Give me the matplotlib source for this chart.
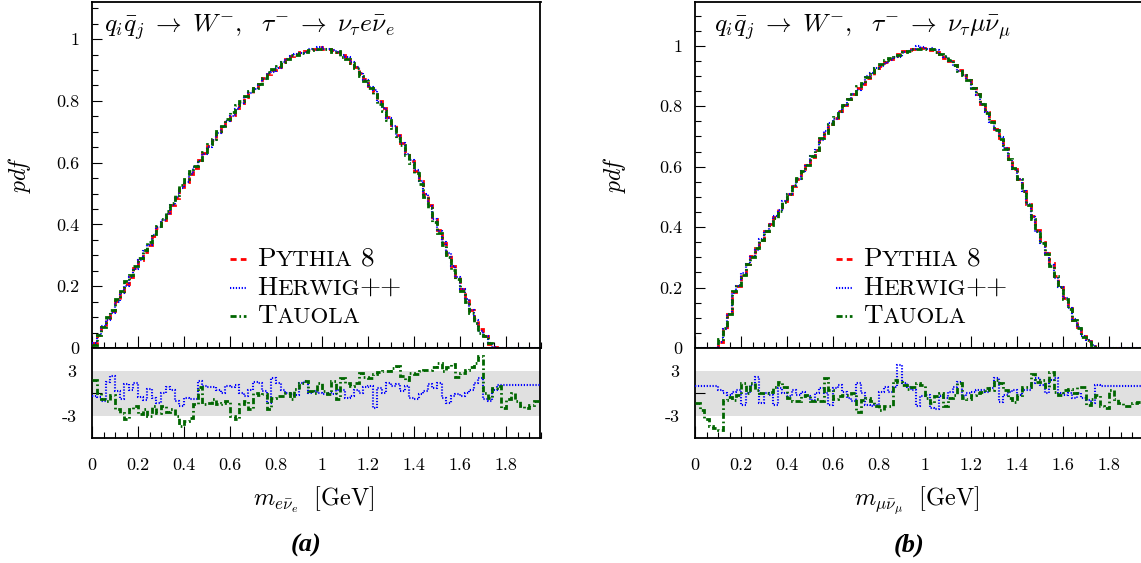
import numpy as np
import matplotlib
import matplotlib.pyplot as plt
from matplotlib.ticker import MultipleLocator, FuncFormatter, FixedLocator
from matplotlib.offsetbox import TextArea, HPacker, AnnotationBbox

matplotlib.use('Agg')

# histogram binning: 98 bins of 0.02 GeV
bin_edges = np.linspace(0.0, 1.96, 99)

# (a) tau -> nu e nubar, m(e nubar_e)
pythia_e = [0.015, 0.041, 0.067, 0.096, 0.121, 0.151, 0.177, 0.206, 0.231, 0.259,
            0.284, 0.311, 0.335, 0.363, 0.387, 0.413, 0.437, 0.464, 0.487, 0.514,
            0.536, 0.562, 0.584, 0.610, 0.631, 0.655, 0.674, 0.697, 0.715, 0.737,
            0.755, 0.776, 0.794, 0.813, 0.825, 0.841, 0.854, 0.873, 0.887, 0.901,
            0.911, 0.926, 0.936, 0.946, 0.951, 0.959, 0.962, 0.967, 0.967, 0.973,
            0.969, 0.969, 0.964, 0.959, 0.949, 0.941, 0.924, 0.909, 0.889, 0.871,
            0.849, 0.829, 0.799, 0.776, 0.747, 0.721, 0.691, 0.663, 0.631, 0.606,
            0.574, 0.541, 0.499, 0.463, 0.419, 0.383, 0.341, 0.303, 0.264, 0.229,
            0.191, 0.159, 0.124, 0.094, 0.062, 0.038, 0.014, 0.003, 0.0, 0.0,
            0.0, 0.0, 0.0, 0.0, 0.0, 0.0, 0.0, 0.0]
herwig_e = [0.016, 0.043, 0.070, 0.092, 0.114, 0.150, 0.179, 0.202, 0.229, 0.255,
            0.286, 0.314, 0.333, 0.365, 0.391, 0.413, 0.434, 0.462, 0.490, 0.519,
            0.538, 0.564, 0.586, 0.605, 0.628, 0.652, 0.672, 0.695, 0.715, 0.734,
            0.752, 0.773, 0.794, 0.814, 0.824, 0.837, 0.850, 0.872, 0.891, 0.895,
            0.907, 0.925, 0.936, 0.946, 0.952, 0.955, 0.957, 0.967, 0.966, 0.973,
            0.969, 0.969, 0.964, 0.958, 0.948, 0.943, 0.925, 0.908, 0.889, 0.868,
            0.846, 0.835, 0.797, 0.776, 0.743, 0.718, 0.687, 0.662, 0.628, 0.608,
            0.576, 0.541, 0.498, 0.459, 0.417, 0.379, 0.343, 0.307, 0.265, 0.229,
            0.192, 0.159, 0.122, 0.090, 0.056, 0.040, 0.017, 0.002, 0.0, 0.0,
            0.0, 0.0, 0.0, 0.0, 0.0, 0.0, 0.0, 0.0]
tauola_e = [0.010, 0.041, 0.069, 0.099, 0.122, 0.157, 0.185, 0.216, 0.237, 0.264,
            0.292, 0.317, 0.344, 0.368, 0.395, 0.418, 0.444, 0.470, 0.496, 0.527,
            0.547, 0.572, 0.588, 0.607, 0.635, 0.659, 0.676, 0.701, 0.719, 0.740,
            0.764, 0.786, 0.798, 0.816, 0.831, 0.841, 0.855, 0.873, 0.893, 0.903,
            0.912, 0.927, 0.936, 0.948, 0.949, 0.955, 0.957, 0.966, 0.967, 0.969,
            0.968, 0.969, 0.959, 0.961, 0.943, 0.937, 0.921, 0.905, 0.881, 0.864,
            0.843, 0.821, 0.791, 0.767, 0.738, 0.711, 0.680, 0.656, 0.626, 0.598,
            0.567, 0.532, 0.490, 0.454, 0.409, 0.371, 0.332, 0.293, 0.253, 0.222,
            0.183, 0.150, 0.114, 0.082, 0.047, 0.038, 0.016, 0.001, 0.0, 0.0,
            0.0, 0.0, 0.0, 0.0, 0.0, 0.0, 0.0, 0.0]
ratio_herwig_e = [-0.3, -0.5, -1.0, 1.5, 2.3, 0.3, -0.8, 1.2, 0.5, 1.3,
                  -0.5, -0.9, 0.6, -0.6, -1.3, 0.0, 0.9, 0.5, -1.0, -1.6,
                  -0.6, -0.8, -0.8, 1.6, 1.0, 0.9, 0.8, 0.5, 0.0, 1.0,
                  0.9, 1.1, 0.0, -0.4, 0.5, 1.5, 1.4, 0.3, -1.2, 2.0,
                  1.3, 0.5, 0.1, -0.1, -0.2, 1.4, 1.6, 0.1, 0.3, 0.1,
                  -0.1, 0.1, -0.1, 0.5, 0.5, -0.6, -0.4, 0.5, 0.1, 0.9,
                  1.0, -1.9, 0.7, 0.1, 1.4, 1.0, 1.2, 0.3, 1.0, -0.6,
                  -0.8, -0.1, 0.3, 1.2, 0.7, 1.4, -0.6, -1.2, -0.4, -0.1,
                  -0.3, 0.1, 0.5, 1.3, 2.0, -0.8, -1.0, 0.5, 1.1, 1.1,
                  1.1, 1.1, 1.1, 1.1, 1.1, 1.1, 1.1, 1.1]
ratio_tauola_e = [1.8, 0.1, -0.8, -1.0, -0.2, -2.0, -2.6, -3.4, -2.0, -1.6,
                  -2.7, -2.1, -3.0, -1.6, -2.6, -1.7, -2.4, -2.0, -3.0, -4.3,
                  -3.6, -3.2, -1.4, 0.9, -1.4, -1.2, -0.8, -1.4, -1.2, -1.0,
                  -2.9, -3.4, -1.4, -1.0, -2.1, 0.0, -0.2, -0.1, -2.1, -0.6,
                  -0.4, -0.3, 0.0, -0.8, 0.6, 1.3, 1.6, 0.3, 0.1, 1.4,
                  0.3, -0.1, 1.6, -0.8, 2.0, 1.4, 1.0, 1.4, 2.7, 2.2,
                  2.0, 2.6, 2.8, 2.9, 3.0, 3.3, 3.6, 2.3, 1.8, 2.7,
                  2.5, 2.9, 3.1, 3.1, 3.5, 4.0, 2.9, 3.5, 3.8, 2.2,
                  2.7, 3.1, 3.5, 4.0, 4.9, 0.1, -0.6, 0.7, 1.0, -1.9,
                  -0.8, 0.1, -1.0, -1.7, -1.9, -1.5, -1.0, -1.0]

# (b) tau -> nu mu nubar, m(mu nubar_mu)
pythia_mu = [0.0, 0.0, 0.0, 0.0, 0.0, 0.021, 0.064, 0.111, 0.184, 0.206,
             0.244, 0.279, 0.304, 0.331, 0.357, 0.386, 0.409, 0.433, 0.459, 0.486,
             0.509, 0.536, 0.559, 0.586, 0.606, 0.631, 0.654, 0.691, 0.719, 0.741,
             0.761, 0.783, 0.804, 0.823, 0.839, 0.859, 0.874, 0.894, 0.905, 0.921,
             0.933, 0.947, 0.955, 0.967, 0.974, 0.983, 0.985, 0.991, 0.993, 0.994,
             0.989, 0.986, 0.979, 0.973, 0.961, 0.951, 0.936, 0.921, 0.902, 0.886,
             0.861, 0.839, 0.809, 0.781, 0.751, 0.726, 0.694, 0.661, 0.624, 0.593,
             0.559, 0.521, 0.477, 0.436, 0.391, 0.351, 0.314, 0.281, 0.239, 0.201,
             0.164, 0.131, 0.094, 0.069, 0.039, 0.023, 0.007, 0.001, 0.0, 0.0,
             0.0, 0.0, 0.0, 0.0, 0.0, 0.0, 0.0, 0.0]
herwig_mu = [0.0, 0.0, 0.0, 0.0, 0.0, 0.020, 0.064, 0.112, 0.183, 0.205,
             0.249, 0.279, 0.301, 0.324, 0.361, 0.386, 0.410, 0.438, 0.457, 0.486,
             0.510, 0.535, 0.560, 0.585, 0.607, 0.634, 0.654, 0.689, 0.719, 0.746,
             0.759, 0.780, 0.803, 0.825, 0.842, 0.855, 0.874, 0.899, 0.910, 0.926,
             0.932, 0.944, 0.954, 0.964, 0.963, 0.979, 0.982, 0.990, 0.998, 0.995,
             0.990, 0.992, 0.985, 0.974, 0.963, 0.950, 0.933, 0.917, 0.903, 0.886,
             0.860, 0.838, 0.808, 0.780, 0.749, 0.720, 0.697, 0.662, 0.623, 0.592,
             0.560, 0.520, 0.476, 0.432, 0.385, 0.348, 0.314, 0.276, 0.233, 0.201,
             0.165, 0.131, 0.096, 0.069, 0.041, 0.026, 0.011, 0.000, 0.0, 0.0,
             0.0, 0.0, 0.0, 0.0, 0.0, 0.0, 0.0, 0.0]
tauola_mu = [0.0, 0.0, 0.0, 0.0, 0.0, 0.030, 0.067, 0.113, 0.187, 0.207,
             0.240, 0.279, 0.300, 0.330, 0.357, 0.386, 0.408, 0.431, 0.455, 0.483,
             0.511, 0.539, 0.562, 0.587, 0.607, 0.634, 0.656, 0.694, 0.713, 0.740,
             0.763, 0.784, 0.805, 0.824, 0.839, 0.866, 0.877, 0.896, 0.908, 0.926,
             0.940, 0.952, 0.960, 0.962, 0.970, 0.980, 0.983, 0.989, 0.989, 0.991,
             0.991, 0.990, 0.980, 0.973, 0.966, 0.953, 0.937, 0.917, 0.904, 0.888,
             0.862, 0.839, 0.808, 0.779, 0.749, 0.721, 0.690, 0.660, 0.626, 0.596,
             0.560, 0.518, 0.474, 0.428, 0.387, 0.346, 0.311, 0.273, 0.238, 0.202,
             0.163, 0.129, 0.094, 0.066, 0.036, 0.027, 0.009, 0.001, 0.0, 0.0,
             0.0, 0.0, 0.0, 0.0, 0.0, 0.0, 0.0, 0.0]
ratio_herwig_mu = [1.0, 1.0, 1.0, 1.0, 1.0, 0.5, 0.0, -0.2, 0.2, 0.5,
                   -1.5, 0.0, 1.1, 2.2, -1.3, 0.0, -0.2, -1.5, 0.7, 0.0,
                   -0.4, 0.5, -0.2, 0.2, -0.4, -0.9, 0.0, 0.7, 0.0, -1.5,
                   0.7, 1.1, 0.2, -0.6, -1.0, 1.3, 0.0, -1.5, -1.7, -1.5,
                   0.2, 0.9, 0.2, 0.9, 3.7, 1.3, 0.9, 0.5, -1.7, -0.4,
                   -0.2, -1.9, -2.1, -0.4, -0.6, 0.2, 0.9, 1.5, -0.4, 0.0,
                   0.2, 0.5, 0.4, 0.2, 0.7, 2.0, -1.1, -0.2, 0.2, 0.5,
                   -0.2, 0.5, 0.5, 1.3, 2.0, 1.1, 0.0, 1.8, 2.0, 0.0,
                   -0.2, 0.0, -0.6, 0.0, -0.6, -0.9, -1.3, 1.1, 1.0, 1.0,
                   1.0, 1.0, 1.0, 1.0, 1.0, 1.0, 1.0, 1.0]
ratio_tauola_mu = [-1.3, -2.2, -3.4, -4.3, -4.6, -4.8, -0.9, -0.5, -0.9, -0.2,
                   1.3, 0.0, 1.3, 0.5, 0.0, 0.0, 0.2, 0.8, 1.5, 0.9,
                   -0.6, -1.0, -1.0, -0.4, -0.2, -1.0, -0.8, -1.0, 2.0, 0.5,
                   -0.8, -0.4, -0.2, -0.2, 0.0, -2.4, -0.9, -0.6, -1.0, -1.7,
                   -2.2, -1.7, -1.7, 1.8, 1.5, 1.1, 0.6, 0.8, 1.3, 1.1,
                   -0.6, -1.3, -0.4, 0.0, -1.7, -0.6, -0.2, 1.3, -0.6, -0.8,
                   -0.2, 0.0, 0.2, 0.7, 0.5, 1.8, 1.3, 0.5, -0.6, -1.1,
                   -0.2, 0.9, 0.9, 2.6, 1.5, 1.7, 0.9, 2.8, 0.2, -0.2,
                   0.4, 0.6, 0.0, 0.9, 0.9, -1.5, -0.8, -0.2, -1.7, -1.9,
                   0.4, -0.8, -1.3, -1.7, -1.7, -1.3, -1.1, -1.1]

for arr in [pythia_e, herwig_e, tauola_e, ratio_herwig_e, ratio_tauola_e,
            pythia_mu, herwig_mu, tauola_mu, ratio_herwig_mu, ratio_tauola_mu]:
    assert len(arr) == len(bin_edges) - 1, len(arr)

plt.rcParams['font.family'] = 'serif'
plt.rcParams['font.serif'] = ['cmr10']
plt.rcParams['mathtext.fontset'] = 'cm'
plt.rcParams['axes.formatter.use_mathtext'] = True
plt.rcParams['axes.linewidth'] = 1.3

RED = '#ff0000'
BLUE = '#0000ff'
GREEN = '#006600'
STYLE_P = dict(color=RED, lw=2.0, linestyle=(0, (2.2, 1.5)))
STYLE_H = dict(color=BLUE, lw=1.5, linestyle=(0, (0.6, 0.8)))
STYLE_T = dict(color=GREEN, lw=2.0, linestyle=(0, (2.2, 1.0, 0.6, 1.0)))

W, H = 1141, 563
fig = plt.figure(figsize=(W / 100, H / 100), dpi=100)

fmt = FuncFormatter(lambda v, p: '%g' % round(v, 3))
XMAX = 1.95
TICK_FS = 13


def smallcaps(parts, size):
    boxes = [TextArea(t, textprops=dict(fontsize=size if big else size * 0.85))
             for t, big in parts]
    return HPacker(children=boxes, align='baseline', pad=0, sep=0)


def draw_panel(left_px, pythia, herwig, tauola, r_herwig, r_tauola, ymax,
               title, title_x, xlabel, tag, leg_x, ylab_x):
    ax = fig.add_axes([left_px / W, (H - 348) / H, XMAX * 230 / W, 346 / H])
    axr = fig.add_axes([left_px / W, (H - 438) / H, XMAX * 230 / W, 90 / H])

    ax.stairs(pythia, bin_edges, baseline=None, zorder=3, **STYLE_P)
    ax.stairs(herwig, bin_edges, baseline=None, zorder=3, **STYLE_H)
    ax.stairs(tauola, bin_edges, baseline=None, zorder=3, **STYLE_T)
    ax.set_xlim(0, XMAX)
    ax.set_ylim(0, ymax)
    ax.xaxis.set_major_locator(MultipleLocator(0.2))
    ax.xaxis.set_minor_locator(MultipleLocator(0.05))
    ax.yaxis.set_major_locator(FixedLocator([0, 0.2, 0.4, 0.6, 0.8, 1.0]))
    ax.yaxis.set_minor_locator(MultipleLocator(0.05))
    ax.yaxis.set_major_formatter(fmt)
    ax.tick_params(which='both', direction='in', top=False, right=False,
                   labelbottom=False, labelsize=TICK_FS, width=0.8, pad=9)
    ax.tick_params(axis='x', which='major', length=8.5)
    ax.tick_params(axis='x', which='minor', length=4.3)
    ax.tick_params(axis='y', which='major', length=7)
    ax.tick_params(axis='y', which='minor', length=4)
    ax.set_ylabel(r'$pd\!f$', fontsize=17)
    ax.yaxis.set_label_coords(ylab_x, 0.5)
    ax.text(title_x, 0.928, title, transform=ax.transAxes, fontsize=18.5,
            ha='left', va='center')

    # legend drawn by hand (small caps names)
    entries = [(STYLE_P, [('P', True), ('YTHIA', False), (' 8', True)], 0.257),
               (STYLE_H, [('H', True), ('ERWIG', False), ('++', True)], 0.173),
               (STYLE_T, [('T', True), ('AUOLA', False)], 0.092)]
    for style, parts, yy in entries:
        ax.plot([leg_x, leg_x + 0.036], [yy, yy], transform=ax.transAxes, **style)
        ab = AnnotationBbox(smallcaps(parts, 19.5), (leg_x + 0.06, yy),
                            xycoords=ax.transAxes, box_alignment=(0, 0.5),
                            frameon=False, pad=0)
        ax.add_artist(ab)

    # ratio panel
    axr.axhspan(-3, 3, color='#e0e0e0', zorder=0, lw=0)
    axr.stairs(r_herwig, bin_edges, baseline=None, zorder=3, **STYLE_H)
    axr.stairs(r_tauola, bin_edges, baseline=None, zorder=3, **STYLE_T)
    axr.set_xlim(0, XMAX)
    axr.set_ylim(-5.85, 5.95)
    axr.xaxis.set_major_locator(MultipleLocator(0.2))
    axr.xaxis.set_minor_locator(MultipleLocator(0.05))
    axr.xaxis.set_major_formatter(fmt)
    axr.set_yticks([-3, 3], ['-3', '3'])
    axr.yaxis.set_minor_locator(FixedLocator([0]))
    axr.tick_params(which='both', direction='in', top=False, right=False,
                    labelsize=TICK_FS, width=0.8)
    axr.tick_params(axis='x', which='major', length=8.5, pad=14)
    axr.tick_params(axis='x', which='minor', length=4.3)
    axr.tick_params(axis='y', which='major', length=0, pad=11)
    axr.tick_params(axis='y', which='minor', length=7)
    axr.text(0.494, -0.69, xlabel, transform=axr.transAxes, fontsize=17.5,
             ha='center', va='center')
    axr.text(0.478, -1.19, tag, transform=axr.transAxes, fontsize=19,
             ha='center', va='center', family='Liberation Serif',
             weight='bold', style='italic')


draw_panel(92, pythia_e, herwig_e, tauola_e, ratio_herwig_e, ratio_tauola_e, 1.12,
           r'$q_i\bar{q}_j\;\rightarrow\;W^{-},\ \ \tau^{-}\;\rightarrow\;\nu_\tau e\bar{\nu}_e$',
           0.027, r'$m_{e\bar{\nu}_e}\ \ [\mathrm{GeV}]$', '(a)', 0.308, -0.1315)
draw_panel(695, pythia_mu, herwig_mu, tauola_mu, ratio_herwig_mu, ratio_tauola_mu, 1.145,
           r'$q_i\bar{q}_j\;\rightarrow\;W^{-},\ \ \tau^{-}\;\rightarrow\;\nu_\tau \mu\bar{\nu}_\mu$',
           0.042, r'$m_{\mu\bar{\nu}_\mu}\ \ [\mathrm{GeV}]$', '(b)', 0.314, -0.149)

fig.savefig('out.png', dpi=100)
